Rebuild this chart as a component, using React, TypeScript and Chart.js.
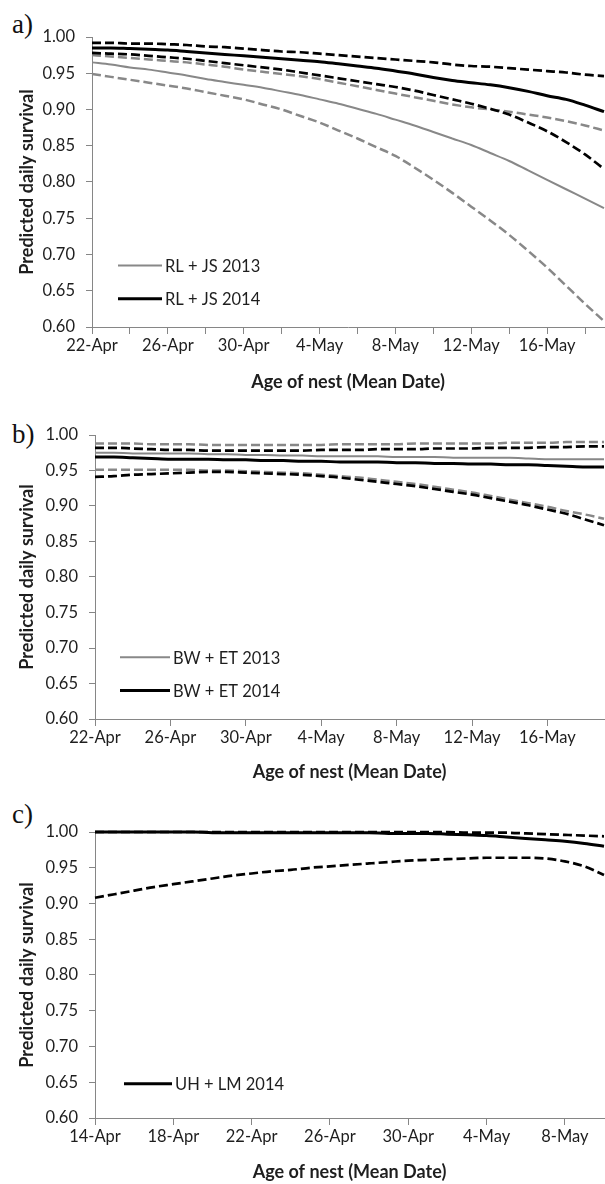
import React, { useEffect, useRef } from 'react';
import { Chart, registerables } from 'chart.js';

Chart.register(...registerables);

// ---------- categories ----------
const datesAB = [
  '22-Apr', '23-Apr', '24-Apr', '25-Apr', '26-Apr', '27-Apr', '28-Apr', '29-Apr', '30-Apr',
  '1-May', '2-May', '3-May', '4-May', '5-May', '6-May', '7-May', '8-May', '9-May', '10-May',
  '11-May', '12-May', '13-May', '14-May', '15-May', '16-May', '17-May', '18-May', '19-May',
];
const datesC = [
  '14-Apr', '15-Apr', '16-Apr', '17-Apr', '18-Apr', '19-Apr', '20-Apr', '21-Apr', '22-Apr',
  '23-Apr', '24-Apr', '25-Apr', '26-Apr', '27-Apr', '28-Apr', '29-Apr', '30-Apr',
  '1-May', '2-May', '3-May', '4-May', '5-May', '6-May', '7-May', '8-May', '9-May', '10-May',
];
const yTickValues = [0.6, 0.65, 0.7, 0.75, 0.8, 0.85, 0.9, 0.95, 1.0];

// ---------- panel a: RL + JS ----------
const rl2013 = [0.965, 0.962, 0.958, 0.955, 0.951, 0.947, 0.942, 0.938, 0.934, 0.930, 0.925, 0.920, 0.914, 0.908, 0.901, 0.894, 0.886, 0.878, 0.869, 0.860, 0.851, 0.840, 0.829, 0.816, 0.803, 0.790, 0.777, 0.764];
const rl2013Hi = [0.975, 0.973, 0.971, 0.969, 0.967, 0.965, 0.962, 0.959, 0.955, 0.952, 0.949, 0.946, 0.942, 0.937, 0.932, 0.927, 0.922, 0.917, 0.912, 0.907, 0.903, 0.900, 0.897, 0.893, 0.889, 0.884, 0.878, 0.871];
const rl2013Lo = [0.949, 0.945, 0.941, 0.937, 0.933, 0.929, 0.924, 0.919, 0.914, 0.907, 0.900, 0.891, 0.882, 0.871, 0.860, 0.848, 0.836, 0.820, 0.803, 0.785, 0.766, 0.747, 0.727, 0.705, 0.682, 0.657, 0.632, 0.608];
const rl2014 = [0.985, 0.985, 0.984, 0.983, 0.982, 0.980, 0.978, 0.976, 0.974, 0.972, 0.970, 0.968, 0.966, 0.963, 0.960, 0.957, 0.953, 0.949, 0.944, 0.940, 0.937, 0.934, 0.930, 0.925, 0.919, 0.914, 0.906, 0.897];
const rl2014Hi = [0.992, 0.992, 0.991, 0.991, 0.990, 0.989, 0.987, 0.986, 0.984, 0.982, 0.980, 0.979, 0.977, 0.975, 0.973, 0.971, 0.969, 0.967, 0.965, 0.962, 0.960, 0.959, 0.957, 0.955, 0.953, 0.951, 0.948, 0.946];
const rl2014Lo = [0.978, 0.977, 0.976, 0.974, 0.972, 0.970, 0.967, 0.964, 0.961, 0.958, 0.955, 0.951, 0.947, 0.943, 0.939, 0.935, 0.931, 0.926, 0.920, 0.914, 0.908, 0.901, 0.893, 0.882, 0.870, 0.855, 0.838, 0.818];

// ---------- panel b: BW + ET ----------
const bw2013 = [0.975, 0.975, 0.974, 0.974, 0.974, 0.974, 0.973, 0.973, 0.972, 0.972, 0.971, 0.971, 0.970, 0.970, 0.970, 0.970, 0.969, 0.969, 0.969, 0.968, 0.968, 0.968, 0.968, 0.967, 0.966, 0.966, 0.966, 0.966];
const bw2013Hi = [0.988, 0.988, 0.988, 0.987, 0.987, 0.987, 0.986, 0.986, 0.986, 0.986, 0.986, 0.986, 0.986, 0.987, 0.987, 0.987, 0.987, 0.988, 0.988, 0.988, 0.988, 0.988, 0.989, 0.989, 0.989, 0.990, 0.990, 0.990];
const bw2013Lo = [0.951, 0.951, 0.951, 0.951, 0.951, 0.951, 0.950, 0.950, 0.949, 0.948, 0.947, 0.946, 0.944, 0.942, 0.940, 0.937, 0.934, 0.931, 0.927, 0.923, 0.919, 0.914, 0.909, 0.904, 0.899, 0.893, 0.888, 0.882];
const bw2014 = [0.969, 0.969, 0.968, 0.967, 0.966, 0.966, 0.966, 0.965, 0.965, 0.964, 0.964, 0.963, 0.963, 0.962, 0.962, 0.962, 0.961, 0.961, 0.960, 0.960, 0.959, 0.959, 0.958, 0.958, 0.957, 0.956, 0.955, 0.955];
const bw2014Hi = [0.982, 0.982, 0.981, 0.980, 0.979, 0.979, 0.978, 0.978, 0.978, 0.978, 0.978, 0.978, 0.979, 0.979, 0.979, 0.980, 0.980, 0.980, 0.981, 0.981, 0.981, 0.982, 0.982, 0.982, 0.983, 0.983, 0.984, 0.984];
const bw2014Lo = [0.941, 0.942, 0.944, 0.945, 0.946, 0.947, 0.948, 0.948, 0.947, 0.946, 0.945, 0.944, 0.942, 0.940, 0.937, 0.934, 0.931, 0.928, 0.924, 0.920, 0.916, 0.911, 0.906, 0.901, 0.895, 0.889, 0.881, 0.873];

// ---------- panel c: UH + LM ----------
const uh2014 = [1.000, 1.000, 1.000, 1.000, 1.000, 1.000, 0.999, 0.999, 0.999, 0.999, 0.999, 0.999, 0.999, 0.999, 0.999, 0.998, 0.998, 0.998, 0.997, 0.996, 0.995, 0.993, 0.991, 0.989, 0.987, 0.984, 0.980];
const uh2014Hi = [1.000, 1.000, 1.000, 1.000, 1.000, 1.000, 1.000, 1.000, 1.000, 1.000, 1.000, 1.000, 1.000, 1.000, 1.000, 1.000, 1.000, 1.000, 1.000, 0.999, 0.999, 0.999, 0.998, 0.997, 0.996, 0.995, 0.994];
const uh2014Lo = [0.908, 0.913, 0.918, 0.923, 0.927, 0.931, 0.935, 0.939, 0.942, 0.945, 0.947, 0.950, 0.952, 0.954, 0.956, 0.958, 0.960, 0.961, 0.962, 0.963, 0.964, 0.964, 0.964, 0.963, 0.959, 0.952, 0.940];

// ---------- styles ----------
const GRAY = 'rgb(136,136,136)';
const BLACK = '#000000';
const AXIS = 'rgb(134,134,134)';
const TEXT = '#1e1e1e';
const FONT = 'Lato, "Open Sans", sans-serif';
const TICK_SIZE = 16.5;

type Series = { data: number[]; color: string; width: number; dash?: number[] };
type LegendItem = { text: string; color: string; width: number; value: number };

type PanelProps = {
  letter: string;
  top: number;
  height: number;
  padTop: number;
  xHeight: number;
  yWidth: number;
  titlePadB: number;
  labels: string[];
  tickEvery: number;
  labelEvery: number;
  series: Series[];
  legend: LegendItem[];
  legendX: number;
  legendLen: number;
  letterTop: number;
};

function Panel(p: PanelProps) {
  const ref = useRef<HTMLCanvasElement | null>(null);
  useEffect(() => {
    if (!ref.current) return;
    const legendPlugin = {
      id: 'inlineLegend',
      afterDatasetsDraw(chart: any) {
        const { ctx, chartArea } = chart;
        const y = chart.scales.y;
        ctx.save();
        p.legend.forEach((it) => {
          const yy = y.getPixelForValue(it.value);
          const x0 = chartArea.left + p.legendX;
          ctx.beginPath();
          ctx.setLineDash([]);
          ctx.strokeStyle = it.color;
          ctx.lineWidth = it.width;
          ctx.moveTo(x0, yy);
          ctx.lineTo(x0 + p.legendLen, yy);
          ctx.stroke();
          ctx.fillStyle = TEXT;
          ctx.font = `${TICK_SIZE}px ${FONT}`;
          ctx.textBaseline = 'middle';
          ctx.textAlign = 'left';
          ctx.fillText(it.text, x0 + p.legendLen + 3, yy + 1);
        });
        ctx.restore();
      },
    };
    const chart = new Chart(ref.current, {
      type: 'line',
      data: {
        labels: p.labels,
        datasets: p.series.map((s) => ({
          data: s.data,
          borderColor: s.color,
          borderWidth: s.width,
          borderDash: s.dash || [],
          pointRadius: 0,
          fill: false,
          cubicInterpolationMode: 'monotone' as const,
          clip: false as any,
        })),
      },
      options: {
        animation: false,
        responsive: true,
        maintainAspectRatio: false,
        layout: { padding: { top: p.padTop, right: 1, left: 0, bottom: 0 } },
        plugins: { legend: { display: false }, tooltip: { enabled: false } },
        scales: {
          x: {
            type: 'category',
            grid: { drawOnChartArea: false, drawTicks: true, tickLength: 7, color: AXIS, lineWidth: 1 },
            border: { display: true, color: AXIS, width: 1 },
            ticks: {
              autoSkip: false,
              maxRotation: 0,
              minRotation: 0,
              padding: 2,
              color: TEXT,
              font: { family: FONT, size: TICK_SIZE },
              callback: (_v: any, i: number) =>
                i % p.labelEvery === 0 ? p.labels[i] : i % p.tickEvery === 0 ? '' : null,
            },
            title: {
              display: true,
              text: 'Age of nest (Mean Date)',
              color: TEXT,
              font: { family: FONT, size: 18, weight: 'bold' },
              padding: { top: 0, bottom: p.titlePadB },
            },
            afterFit: (s: any) => {
              s.height = p.xHeight;
            },
          },
          y: {
            min: 0.6,
            max: 1.0,
            afterBuildTicks: (s: any) => {
              s.ticks = yTickValues.map((v) => ({ value: v }));
            },
            grid: { drawOnChartArea: false, drawTicks: true, tickLength: 6, color: AXIS, lineWidth: 1 },
            border: { display: true, color: AXIS, width: 1 },
            ticks: {
              padding: 11,
              color: TEXT,
              font: { family: FONT, size: TICK_SIZE },
              callback: (v: any) => Number(v).toFixed(2),
            },
            title: {
              display: true,
              text: 'Predicted daily survival',
              color: TEXT,
              font: { family: FONT, size: 18, weight: 'bold' },
              padding: { top: 16, bottom: 0 },
            },
            afterFit: (s: any) => {
              s.width = p.yWidth;
            },
          },
        },
      } as any,
      plugins: [legendPlugin],
    });
    return () => chart.destroy();
  }, []);

  return (
    <>
      <div
        style={{
          position: 'absolute',
          left: 12,
          top: p.letterTop,
          fontFamily: '"Liberation Serif", "Times New Roman", serif',
          fontSize: 27,
          lineHeight: '27px',
          color: '#111',
        }}
      >
        {p.letter}
      </div>
      <div style={{ position: 'absolute', left: 0, top: p.top, width: 605, height: p.height }}>
        <canvas ref={ref} />
      </div>
    </>
  );
}

export default function App() {
  const dash = [9, 4];
  return (
    <div style={{ position: 'absolute', left: 0, top: 0, width: 605, height: 1184, background: '#fff', overflow: 'hidden' }}>
      <Panel
        letter="a)"
        top={0}
        height={400}
        padTop={37}
        xHeight={73}
        yWidth={92}
        titlePadB={7}
        labels={datesAB}
        tickEvery={2}
        labelEvery={4}
        letterTop={11}
        legendX={26}
        legendLen={44}
        series={[
          { data: rl2014, color: BLACK, width: 3 },
          { data: rl2014Hi, color: BLACK, width: 2.7, dash },
          { data: rl2014Lo, color: BLACK, width: 2.7, dash },
          { data: rl2013, color: GRAY, width: 2 },
          { data: rl2013Hi, color: GRAY, width: 2.5, dash },
          { data: rl2013Lo, color: GRAY, width: 2.5, dash },
        ]}
        legend={[
          { text: 'RL + JS 2013', color: GRAY, width: 2, value: 0.685 },
          { text: 'RL + JS 2014', color: BLACK, width: 3, value: 0.639 },
        ]}
      />
      <Panel
        letter="b)"
        top={400}
        height={390}
        padTop={35}
        xHeight={71}
        yWidth={95}
        titlePadB={7}
        labels={datesAB}
        tickEvery={4}
        labelEvery={4}
        letterTop={421}
        legendX={25}
        legendLen={50}
        series={[
          { data: bw2014, color: BLACK, width: 3 },
          { data: bw2014Hi, color: BLACK, width: 2.7, dash },
          { data: bw2014Lo, color: BLACK, width: 2.7, dash },
          { data: bw2013, color: GRAY, width: 2 },
          { data: bw2013Hi, color: GRAY, width: 2.5, dash },
          { data: bw2013Lo, color: GRAY, width: 2.5, dash },
        ]}
        legend={[
          { text: 'BW + ET 2013', color: GRAY, width: 2, value: 0.687 },
          { text: 'BW + ET 2014', color: BLACK, width: 3, value: 0.64 },
        ]}
      />
      <Panel
        letter="c)"
        top={790}
        height={394}
        padTop={42}
        xHeight={66}
        yWidth={95}
        titlePadB={1}
        labels={datesC}
        tickEvery={4}
        labelEvery={4}
        letterTop={801}
        legendX={29}
        legendLen={48}
        series={[
          { data: uh2014, color: BLACK, width: 3 },
          { data: uh2014Hi, color: BLACK, width: 2.7, dash },
          { data: uh2014Lo, color: BLACK, width: 2.7, dash },
        ]}
        legend={[{ text: 'UH + LM 2014', color: BLACK, width: 3, value: 0.648 }]}
      />
    </div>
  );
}
